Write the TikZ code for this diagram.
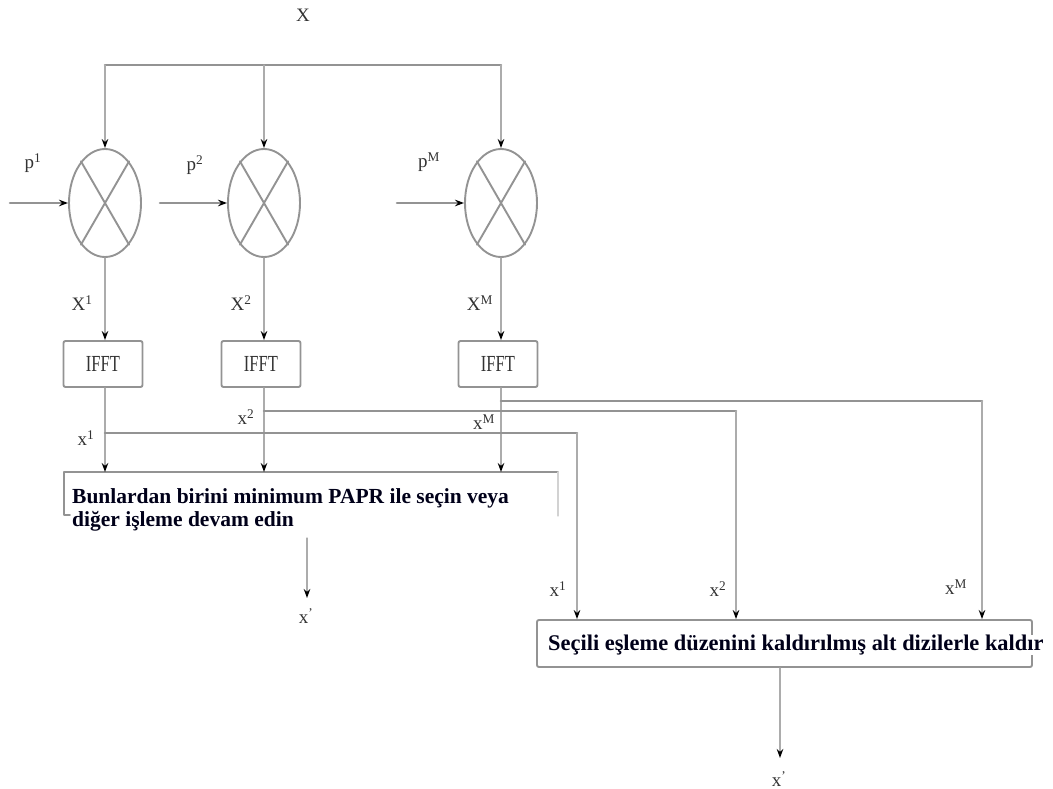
\documentclass[tikz,border=0pt]{standalone}
\usepackage{fontspec}
\setmainfont{Liberation Serif}
\usetikzlibrary{arrows.meta,shapes.geometric,positioning}

\begin{document}
\begin{tikzpicture}[x=1pt, y=-1pt, line cap=round, line join=round,
  >={Stealth[length=9pt,width=6.5pt,color=black]},
  wire/.style={draw=gray!65, line width=1.2pt},
  bus/.style={draw=gray!85, line width=2.6pt},
  frame/.style={draw=gray!85, line width=1.9pt},
  mixer/.style={ellipse, frame, minimum width=72pt, minimum height=108pt, inner sep=0pt},
  ifftbox/.style={rectangle, rounded corners=2pt, frame, minimum width=79pt, minimum height=46pt, font=\fontsize{23}{23}\selectfont, text=black!80},
  lbl/.style={font=\fontsize{19}{19}\selectfont, text=black!80, inner sep=0pt},
  msg/.style={font=\fontsize{21.5}{23}\selectfont\bfseries, text=black!90!blue, inner sep=0pt, align=left}]
  \useasboundingbox (0,0) rectangle (1053,789);

  \node[lbl] (xin) at (303,15) {X};
  \coordinate (bl) at (105,65);
  \coordinate (br) at (501,65);
  \draw[bus] (bl) -- (br);

  \node[mixer] (m1) at (105,203) {};
  \node[mixer] (m2) at (264,203) {};
  \node[mixer] (mM) at (501,203) {};
  \draw[frame] (m1.60) -- (m1.240) (m1.120) -- (m1.300);
  \draw[frame] (m2.60) -- (m2.240) (m2.120) -- (m2.300);
  \draw[frame] (mM.60) -- (mM.240) (mM.120) -- (mM.300);
  \draw[wire,->] (bl) -- (m1.north);
  \draw[wire,->] (bl -| m2.north) -- (m2.north);
  \draw[wire,->] (br) -- (mM.north);

  \coordinate (p1s) at (10,203);
  \coordinate (p2s) at (160,203);
  \coordinate (pMs) at (397,203);
  \draw[bus,->] (p1s) -- (m1.west);
  \draw[bus,->] (p2s) -- (m2.west);
  \draw[bus,->] (pMs) -- (mM.west);
  \node[lbl] (p1) at (33,163) {p\textsuperscript{1}};
  \node[lbl] (p2) at (195,165) {p\textsuperscript{2}};
  \node[lbl] (pM) at (429,162) {p\textsuperscript{M}};

  \node[ifftbox] (f1) at (103,364) {\scalebox{0.72}[1]{IFFT}};
  \node[ifftbox] (f2) at (261,364) {\scalebox{0.72}[1]{IFFT}};
  \node[ifftbox] (fM) at (498,364) {\scalebox{0.72}[1]{IFFT}};
  \draw[wire,->] (m1.south) -- (m1.south |- f1.north);
  \draw[wire,->] (m2.south) -- (m2.south |- f2.north);
  \draw[wire,->] (mM.south) -- (mM.south |- fM.north);
  \node[lbl] (X1) at (82,303) {X\textsuperscript{1}};
  \node[lbl] (X2) at (241,303) {X\textsuperscript{2}};
  \node[lbl] (XM) at (480,303) {X\textsuperscript{M}};

  \node[msg, anchor=north west] (sel) at (72,488) {Bunlardan birini minimum PAPR ile seçin veya\\diğer işleme devam edin};
  \coordinate (s1tl) at (64,472);
  \coordinate (s1tr) at (558,472);
  \draw[frame] (70,515) -- (s1tl |- 0,515) -- (s1tl) -- (s1tr);
  \draw[draw=gray!35, line width=1.2pt] (s1tr) -- (s1tr |- 0,516);
  \draw[wire,->] (m1.south |- f1.south) -- (m1.south |- s1tl);
  \draw[wire,->] (m2.south |- f2.south) -- (m2.south |- s1tl);
  \draw[wire,->] (mM.south |- fM.south) -- (mM.south |- s1tl);

  \node[rectangle, rounded corners=2pt, frame, minimum width=495pt, minimum height=47pt] (rem) at (784.5,643.5) {};
  \node[msg, font=\fontsize{22.4}{24}\selectfont\bfseries, fill=white, anchor=west] (remtxt) at (548,645) {Seçili eşleme düzenini kaldırılmış alt dizilerle kaldır};

  \coordinate (k1) at (577,433);
  \coordinate (k2) at (736,411);
  \coordinate (kM) at (982,401);
  \draw[bus] (m1.south |- k1) -- (k1);
  \draw[bus] (m2.south |- k2) -- (k2);
  \draw[bus] (mM.south |- kM) -- (kM);
  \draw[wire,->] (k1) -- (k1 |- rem.north);
  \draw[wire,->] (k2) -- (k2 |- rem.north);
  \draw[wire,->] (kM) -- (kM |- rem.north);
  \node[lbl] (x1) at (86,438) {x\textsuperscript{1}};
  \node[lbl] (x2) at (246,417) {x\textsuperscript{2}};
  \node[lbl] (xM) at (484,422) {x\textsuperscript{M}};
  \node[lbl] (r1) at (558,589) {x\textsuperscript{1}};
  \node[lbl] (r2) at (718,589) {x\textsuperscript{2}};
  \node[lbl] (rM) at (956,587) {x\textsuperscript{M}};

  \coordinate (o1a) at (307,538);
  \coordinate (o1) at (307,598);
  \draw[wire,->] (o1a) -- (o1);
  \node[lbl] (y1) at (306,616) {x\textsuperscript{'}};
  \coordinate (o2) at (780,758);
  \draw[wire,->] (rem.south -| o2) -- (o2);
  \node[lbl] (y2) at (779,779) {x\textsuperscript{'}};
\end{tikzpicture}
\end{document}
